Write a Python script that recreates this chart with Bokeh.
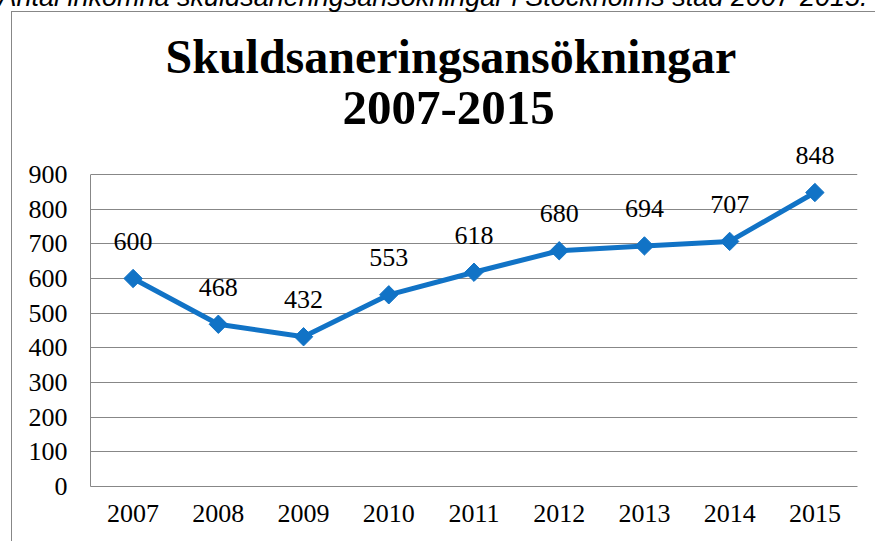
from bokeh.plotting import figure
from bokeh.models import FactorRange, Title, FixedTicker, ColumnDataSource
from bokeh.embed import file_html
from bokeh.resources import INLINE
from bokeh.core.properties import value
import math

years = ["2007", "2008", "2009", "2010", "2011", "2012", "2013", "2014", "2015"]
applications = [600, 468, 432, 553, 618, 680, 694, 707, 848]
y_ticks = [0, 100, 200, 300, 400, 500, 600, 700, 800, 900]
title_line1 = "Skuldsaneringsansökningar"
title_line2 = "2007-2015"
caption = "Antal inkomna skuldsaneringsansökningar i Stockholms stad 2007-2015."

BLUE = "#1173C6"
GRID = "#878787"
SERIF = "Liberation Serif"

# page-pixel layout of the reference (canvas at page 0,0; shifted up by SHIFT)
FL, FR, FT, FB = 90, 857, 174, 486     # plot area (900-line at FT, 0-line at FB)
FTF = 144                              # frame top, leaves room for data labels above 900
PW, PH = 875, 541
SHIFT = 60
BORDER_X, BORDER_Y = 11, 11
YMAX = 900
YTOP = YMAX * (FB - FTF) / (FB - FT)

src = ColumnDataSource(dict(x=years, y=applications, t=[str(v) for v in applications]))

p = figure(width=PW, height=PH + SHIFT, x_range=FactorRange(*years), y_range=(0, YTOP),
           title=None, output_backend="svg", toolbar_location=None,
           min_border_left=FL, min_border_right=PW - FR,
           min_border_top=FTF + SHIFT, min_border_bottom=PH - FB)
p.styles = {
    "margin-top": f"-{SHIFT}px",
    "background": (f"linear-gradient({GRID},{GRID}) {BORDER_X}px {BORDER_Y + SHIFT}px / 1px 100% no-repeat, "
                   f"linear-gradient({GRID},{GRID}) {BORDER_X}px {BORDER_Y + SHIFT}px / 100% 1px no-repeat, white"),
}
p.border_fill_color = None
p.background_fill_color = "white"
p.outline_line_color = None

p.xgrid.grid_line_color = None
p.ygrid.grid_line_color = GRID
p.yaxis.ticker = FixedTicker(ticks=y_ticks)
p.yaxis.bounds = (0, YMAX)

for ax in (p.xaxis[0], p.yaxis[0]):
    ax.axis_line_color = GRID
    ax.major_tick_line_color = None
    ax.minor_tick_line_color = None
    ax.major_tick_out = 0
    ax.major_tick_in = 0
    ax.major_label_text_font = SERIF
    ax.major_label_text_font_size = "26px"
    ax.major_label_text_color = "black"
p.yaxis.major_label_standoff = 23
p.xaxis.major_label_standoff = 18

p.line("x", "y", source=src, line_color=BLUE, line_width=5)
p.scatter("x", "y", source=src, marker="square", size=13, angle=math.pi / 4,
          fill_color=BLUE, line_color=BLUE)
p.text("x", "y", text="t", source=src, text_font=value(SERIF), text_font_size="26px",
       text_align="center", text_baseline="alphabetic", y_offset=-37, text_color="black")

# titles stack outward from the frame; first a blank spacer
p.add_layout(Title(text=" ", text_font_size="10px", text_color="white", standoff=8), "above")
p.add_layout(Title(text=title_line2, align="left", offset=252, standoff=0, text_color="black",
                   text_font=SERIF, text_font_size="49px", text_font_style="bold"), "above")
p.add_layout(Title(text=title_line1, align="left", offset=75, standoff=14, text_color="black",
                   text_font=SERIF, text_font_size="48px", text_font_style="bold"), "above")
p.add_layout(Title(text=caption, align="left", offset=-92, standoff=18, text_color="black",
                   text_font="Liberation Sans", text_font_size="27px", text_font_style="italic"),
             "above")

open("out.html", "w").write(file_html(p, INLINE))
